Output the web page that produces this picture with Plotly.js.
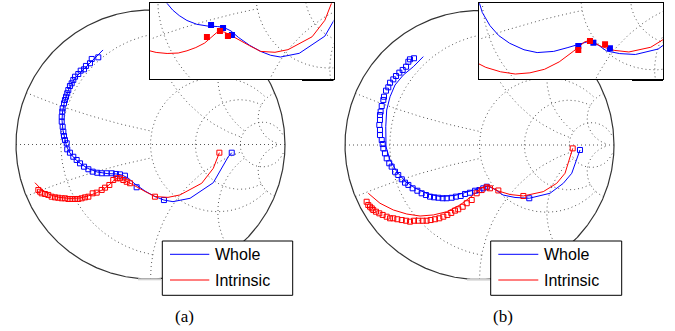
<!DOCTYPE html>
<html>
<head>
<meta charset="utf-8">
<script src="https://cdn.plot.ly/plotly-3.0.1.min.js"></script>
<style>html,body{margin:0;padding:0;background:#fff}#chart{width:675px;height:331px}</style>
</head>
<body>
<div id="chart"></div>
<script>
// ---------- data (reflection coefficient, real / imaginary) ----------
const seriesNames = ['Whole', 'Intrinsic'];
const panelLabels = ['(a)', '(b)'];
// Smith grid values: circle values and where each stops
const gridValues = [0.2, 1, 2, 5];
const gridLimits = [1, 5, 5, 30];

// panel (a)
const aWholeMeasRe = [-0.388,-0.437,-0.450,-0.480,-0.494,-0.519,-0.537,-0.561,-0.574,-0.586,-0.599,-0.611,-0.619,-0.628,-0.636,-0.643,-0.653,-0.656,-0.660,-0.660,-0.653,-0.648,-0.643,-0.636,-0.623,-0.619,-0.599,-0.574,-0.549,-0.524,-0.494,-0.462,-0.430,-0.396,-0.363,-0.326,-0.288,-0.257,-0.227,-0.190,-0.103,0.100,0.604];
const aWholeMeasIm = [0.648,0.636,0.604,0.584,0.559,0.549,0.524,0.504,0.480,0.455,0.435,0.405,0.381,0.355,0.331,0.306,0.269,0.244,0.207,0.170,0.132,0.095,0.063,0.033,0.009,-0.036,-0.061,-0.091,-0.115,-0.140,-0.165,-0.184,-0.202,-0.210,-0.214,-0.214,-0.214,-0.219,-0.222,-0.232,-0.318,-0.413,-0.061];
const aWholeModelRe = [-0.353,-0.413,-0.465,-0.517,-0.554,-0.584,-0.610,-0.628,-0.643,-0.654,-0.658,-0.651,-0.639,-0.625,-0.599,-0.561,-0.517,-0.465,-0.398,-0.323,-0.257,-0.212,-0.167,-0.115,-0.041,0.033,0.100,0.167,0.294,0.467,0.578,0.604];
const aWholeModelIm = [0.703,0.643,0.591,0.546,0.502,0.457,0.405,0.353,0.301,0.242,0.182,0.108,0.048,-0.011,-0.063,-0.108,-0.145,-0.178,-0.204,-0.216,-0.219,-0.227,-0.249,-0.294,-0.346,-0.387,-0.413,-0.425,-0.400,-0.284,-0.091,-0.061];
const aIntrMeasRe = [-0.834,-0.822,-0.809,-0.784,-0.760,-0.735,-0.710,-0.686,-0.660,-0.636,-0.611,-0.586,-0.561,-0.537,-0.512,-0.487,-0.462,-0.430,-0.400,-0.363,-0.338,-0.306,-0.277,-0.251,-0.227,-0.202,-0.177,-0.152,0.033,0.512];
const aIntrMeasIm = [-0.338,-0.351,-0.363,-0.368,-0.375,-0.388,-0.393,-0.396,-0.400,-0.400,-0.405,-0.405,-0.405,-0.405,-0.400,-0.393,-0.388,-0.363,-0.358,-0.338,-0.321,-0.301,-0.264,-0.251,-0.251,-0.264,-0.277,-0.288,-0.388,-0.061];
const aIntrModelRe = [-0.859,-0.822,-0.784,-0.733,-0.673,-0.599,-0.524,-0.465,-0.405,-0.346,-0.301,-0.264,-0.242,-0.212,-0.167,-0.115,-0.041,0.033,0.130,0.219,0.381,0.467,0.512];
const aIntrModelIm = [-0.284,-0.323,-0.353,-0.379,-0.394,-0.401,-0.398,-0.383,-0.361,-0.331,-0.294,-0.260,-0.249,-0.257,-0.279,-0.309,-0.349,-0.387,-0.393,-0.375,-0.288,-0.177,-0.061];
// panel (a) inset highlighted points
const aInsetWholeRe = [-0.302,-0.221,-0.161];
const aInsetWholeIm = [-0.209,-0.229,-0.276];
const aInsetIntrRe = [-0.330,-0.242,-0.188];
const aInsetIntrIm = [-0.290,-0.249,-0.283];

// panel (b)
const bWholeMeasRe = [-0.487,-0.517,-0.529,-0.546,-0.571,-0.596,-0.621,-0.641,-0.665,-0.678,-0.695,-0.710,-0.715,-0.727,-0.735,-0.740,-0.740,-0.745,-0.740,-0.740,-0.727,-0.720,-0.715,-0.703,-0.690,-0.671,-0.653,-0.628,-0.604,-0.578,-0.554,-0.529,-0.497,-0.462,-0.430,-0.398,-0.368,-0.338,-0.306,-0.274,-0.244,-0.207,-0.175,-0.140,-0.108,-0.071,-0.033,-0.001,0.028,0.054,0.370,0.747];
const bWholeMeasIm = [0.645,0.637,0.619,0.582,0.558,0.538,0.513,0.488,0.463,0.429,0.404,0.359,0.335,0.290,0.248,0.223,0.186,0.149,0.112,0.074,0.037,0.007,-0.025,-0.062,-0.099,-0.136,-0.161,-0.199,-0.223,-0.255,-0.280,-0.297,-0.322,-0.340,-0.359,-0.372,-0.384,-0.389,-0.392,-0.396,-0.396,-0.392,-0.384,-0.379,-0.364,-0.355,-0.340,-0.335,-0.322,-0.310,-0.396,-0.037];
const bWholeModelRe = [-0.418,-0.492,-0.567,-0.628,-0.665,-0.690,-0.697,-0.695,-0.665,-0.613,-0.554,-0.480,-0.383,-0.294,-0.182,-0.086,0.004,0.063,0.123,0.175,0.264,0.370,0.524,0.623,0.686,0.723,0.747];
const bWholeModelIm = [0.657,0.582,0.520,0.446,0.359,0.260,0.136,-0.013,-0.112,-0.201,-0.268,-0.320,-0.364,-0.383,-0.375,-0.349,-0.320,-0.305,-0.335,-0.372,-0.390,-0.396,-0.359,-0.285,-0.210,-0.112,-0.037];
const bIntrMeasRe = [-0.839,-0.827,-0.814,-0.801,-0.790,-0.770,-0.745,-0.720,-0.690,-0.665,-0.641,-0.611,-0.578,-0.546,-0.517,-0.487,-0.455,-0.422,-0.393,-0.363,-0.331,-0.299,-0.269,-0.239,-0.210,-0.182,-0.158,-0.125,-0.095,-0.058,-0.021,0.016,0.054,0.078,0.140,0.326,0.693];
const bIntrMeasIm = [-0.422,-0.446,-0.459,-0.471,-0.483,-0.496,-0.508,-0.520,-0.533,-0.545,-0.545,-0.552,-0.558,-0.563,-0.570,-0.563,-0.563,-0.563,-0.563,-0.558,-0.552,-0.545,-0.533,-0.520,-0.505,-0.488,-0.478,-0.459,-0.433,-0.409,-0.359,-0.335,-0.314,-0.322,-0.338,-0.379,-0.025];
const bIntrModelRe = [-0.827,-0.740,-0.641,-0.541,-0.442,-0.343,-0.244,-0.145,-0.046,0.028,0.063,0.100,0.140,0.227,0.326,0.474,0.574,0.636,0.673,0.693];
const bIntrModelIm = [-0.359,-0.433,-0.483,-0.513,-0.528,-0.520,-0.496,-0.446,-0.372,-0.310,-0.301,-0.320,-0.342,-0.368,-0.379,-0.347,-0.285,-0.210,-0.087,-0.025];
// panel (b) inset highlighted points
const bInsetWholeRe = [-0.016,0.086,0.198];
const bInsetWholeIm = [-0.339,-0.316,-0.354];
const bInsetIntrRe = [-0.016,0.063,0.165];
const bInsetIntrIm = [-0.366,-0.305,-0.327];

// ---------- Smith chart grid geometry ----------
function gamma(r, x) {
  const d = (r + 1) * (r + 1) + x * x;
  return [(r * r - 1 + x * x) / d, 2 * x / d];
}
function smithGrid() {
  const gx = [], gy = [];
  const N = 500;
  gridValues.forEach((v, k) => {
    const lim = gridLimits[k];
    for (let i = 0; i <= N; i++) {
      const t = -1 + 2 * i / N;
      const g = gamma(v, lim * Math.sign(t) * t * t); gx.push(g[0]); gy.push(g[1]);
    }
    gx.push(null); gy.push(null);
    [v, -v].forEach(xv => {
      for (let i = 0; i <= N; i++) {
        const t = i / N;
        const g = gamma(lim * t * t, xv); gx.push(g[0]); gy.push(g[1]);
      }
      gx.push(null); gy.push(null);
    });
  });
  gx.push(-1, 1, null); gy.push(0, 0, null);
  return [gx, gy];
}
function outerCircle() {
  const cx = [], cy = [];
  for (let i = 0; i <= 720; i++) { const a = i / 720 * 2 * Math.PI; cx.push(Math.cos(a)); cy.push(Math.sin(a)); }
  return [cx, cy];
}

const BLUE = '#0000ff', RED = '#ff0000';
const GRID = smithGrid();
const OUTER = outerCircle();
const traces = [];
function addGrid(xa, ya, withOuter) {
  traces.push({x: GRID[0], y: GRID[1], xaxis: xa, yaxis: ya, mode: 'lines', hoverinfo: 'skip', showlegend: false,
    line: {color: '#555', width: 1, dash: '1px,3px'}});
  if (withOuter) traces.push({x: OUTER[0], y: OUTER[1], xaxis: xa, yaxis: ya, mode: 'lines', hoverinfo: 'skip', showlegend: false,
    line: {color: '#333', width: 1.2}});
}
function addLine(xs, ys, color, xa, ya, name) {
  traces.push({x: xs, y: ys, xaxis: xa, yaxis: ya, mode: 'lines', name: name, showlegend: false, line: {color: color, width: 1}});
}
function addMarkers(xs, ys, color, xa, ya, name, filled) {
  traces.push({x: xs, y: ys, xaxis: xa, yaxis: ya, mode: 'markers', name: name, showlegend: false, cliponaxis: true,
    marker: filled ? {symbol: 'square', size: 6, color: color} : {symbol: 'square-open', size: 5, color: color, line: {width: 1}}});
}

addGrid('x', 'y', true);
addLine(aWholeModelRe, aWholeModelIm, BLUE, 'x', 'y', seriesNames[0]);
addMarkers(aWholeMeasRe, aWholeMeasIm, BLUE, 'x', 'y', seriesNames[0], false);
addLine(aIntrModelRe, aIntrModelIm, RED, 'x', 'y', seriesNames[1]);
addMarkers(aIntrMeasRe, aIntrMeasIm, RED, 'x', 'y', seriesNames[1], false);
addGrid('x2', 'y2', true);
addLine(bWholeModelRe, bWholeModelIm, BLUE, 'x2', 'y2', seriesNames[0]);
addMarkers(bWholeMeasRe, bWholeMeasIm, BLUE, 'x2', 'y2', seriesNames[0], false);
addLine(bIntrModelRe, bIntrModelIm, RED, 'x2', 'y2', seriesNames[1]);
addMarkers(bIntrMeasRe, bIntrMeasIm, RED, 'x2', 'y2', seriesNames[1], false);
addGrid('x3', 'y3', false);
addLine(aWholeModelRe, aWholeModelIm, BLUE, 'x3', 'y3', seriesNames[0]);
addLine(aIntrModelRe, aIntrModelIm, RED, 'x3', 'y3', seriesNames[1]);
addMarkers(aInsetWholeRe, aInsetWholeIm, BLUE, 'x3', 'y3', seriesNames[0], true);
addMarkers(aInsetIntrRe, aInsetIntrIm, RED, 'x3', 'y3', seriesNames[1], true);
addGrid('x4', 'y4', false);
addLine(bWholeModelRe, bWholeModelIm, BLUE, 'x4', 'y4', seriesNames[0]);
addLine(bIntrModelRe, bIntrModelIm, RED, 'x4', 'y4', seriesNames[1]);
addMarkers(bInsetWholeRe, bInsetWholeIm, BLUE, 'x4', 'y4', seriesNames[0], true);
addMarkers(bInsetIntrRe, bInsetIntrIm, RED, 'x4', 'y4', seriesNames[1], true);

// ---------- layout ----------
const W = 675, H = 331;
const PX = v => v / W, PY = v => 1 - v / H;
const R = 134.5, PAD = 10, SPAN = 1 + PAD / R;
function mainAxes(cx, cy) {
  return [
    {domain: [PX(cx - R - PAD), PX(cx + R + PAD)], range: [-SPAN, SPAN], visible: false, fixedrange: true},
    {domain: [PY(cy + R + PAD), PY(cy - R - PAD)], range: [-SPAN, SPAN], visible: false, fixedrange: true}
  ];
}
function insetAxes(x0, x1, y0, y1, rx, ry) {
  const common = {showline: true, mirror: true, linecolor: '#000', linewidth: 1, showgrid: false, zeroline: false,
    ticks: '', showticklabels: false, fixedrange: true};
  return [
    Object.assign({domain: [PX(x0), PX(x1)], range: rx}, common),
    Object.assign({domain: [PY(y1), PY(y0)], range: ry}, common)
  ];
}
const ma = mainAxes(150.5, 144.5), mb = mainAxes(479.5, 145);
const ia = insetAxes(150, 333.5, 3.3, 79.3, [-0.7147, 0.5255], [-0.5756, -0.0619]);
const ib = insetAxes(479, 663, 3.3, 79.3, [-0.6871, 0.5566], [-0.5637, -0.0500]);
ma[0].anchor = 'y'; ma[1].anchor = 'x';
mb[0].anchor = 'y2'; mb[1].anchor = 'x2';
ia[0].anchor = 'y3'; ia[1].anchor = 'x3';
ib[0].anchor = 'y4'; ib[1].anchor = 'x4';

const shapes = [], annotations = [];
function legendBox(x0, x1, y0, y1, lx0, lx1, tx) {
  shapes.push({type: 'rect', xref: 'paper', yref: 'paper', x0: PX(x0), x1: PX(x1), y0: PY(y1), y1: PY(y0),
    fillcolor: '#fff', line: {color: '#000', width: 1}, layer: 'above'});
  const rows = [254.3, 280];
  [BLUE, RED].forEach((c, i) => {
    shapes.push({type: 'line', xref: 'paper', yref: 'paper', x0: PX(lx0), x1: PX(lx1), y0: PY(rows[i]), y1: PY(rows[i]),
      line: {color: c, width: 1}, layer: 'above'});
    annotations.push({xref: 'paper', yref: 'paper', x: PX(tx), y: PY(rows[i]), xanchor: 'left', yanchor: 'middle',
      text: seriesNames[i], showarrow: false, font: {family: 'Liberation Sans, Arial, sans-serif', size: 16, color: '#000'}});
  });
}
legendBox(162.3, 292.7, 241, 295.3, 170, 209.3, 212.5);
legendBox(490.7, 621.7, 241, 295.3, 498.3, 538.3, 541.5);
[[184, 316.5], [502.5, 316.5]].forEach((p, i) => {
  annotations.push({xref: 'paper', yref: 'paper', x: PX(p[0]), y: PY(p[1]), xanchor: 'center', yanchor: 'middle',
    text: panelLabels[i], showarrow: false, font: {family: 'Liberation Serif, Times New Roman, serif', size: 17, color: '#000'}});
});
// thick segment under each inset
[[302, 333.5], [632, 663]].forEach(p => {
  shapes.push({type: 'line', xref: 'paper', yref: 'paper', x0: PX(p[0]), x1: PX(p[1]), y0: PY(80), y1: PY(80),
    line: {color: '#000', width: 2}, layer: 'above'});
});
// faint segment at the bottom of each chart rim
[[138, 161, 279.3], [467, 490, 279.6]].forEach(p => {
  shapes.push({type: 'line', xref: 'paper', yref: 'paper', x0: PX(p[0]), x1: PX(p[1]), y0: PY(p[2]), y1: PY(p[2]),
    line: {color: '#d0d0d0', width: 2}, layer: 'above'});
});

const layout = {
  width: W, height: H, autosize: false,
  margin: {l: 0, r: 0, t: 0, b: 0, pad: 0},
  paper_bgcolor: '#fff', plot_bgcolor: '#fff',
  showlegend: false,
  xaxis: ma[0], yaxis: ma[1], xaxis2: mb[0], yaxis2: mb[1],
  xaxis3: ia[0], yaxis3: ia[1], xaxis4: ib[0], yaxis4: ib[1],
  shapes: shapes, annotations: annotations,
  font: {family: 'Liberation Sans, Arial, sans-serif'}
};
Plotly.newPlot('chart', traces, layout, {staticPlot: true, displayModeBar: false});
</script>
</body>
</html>
